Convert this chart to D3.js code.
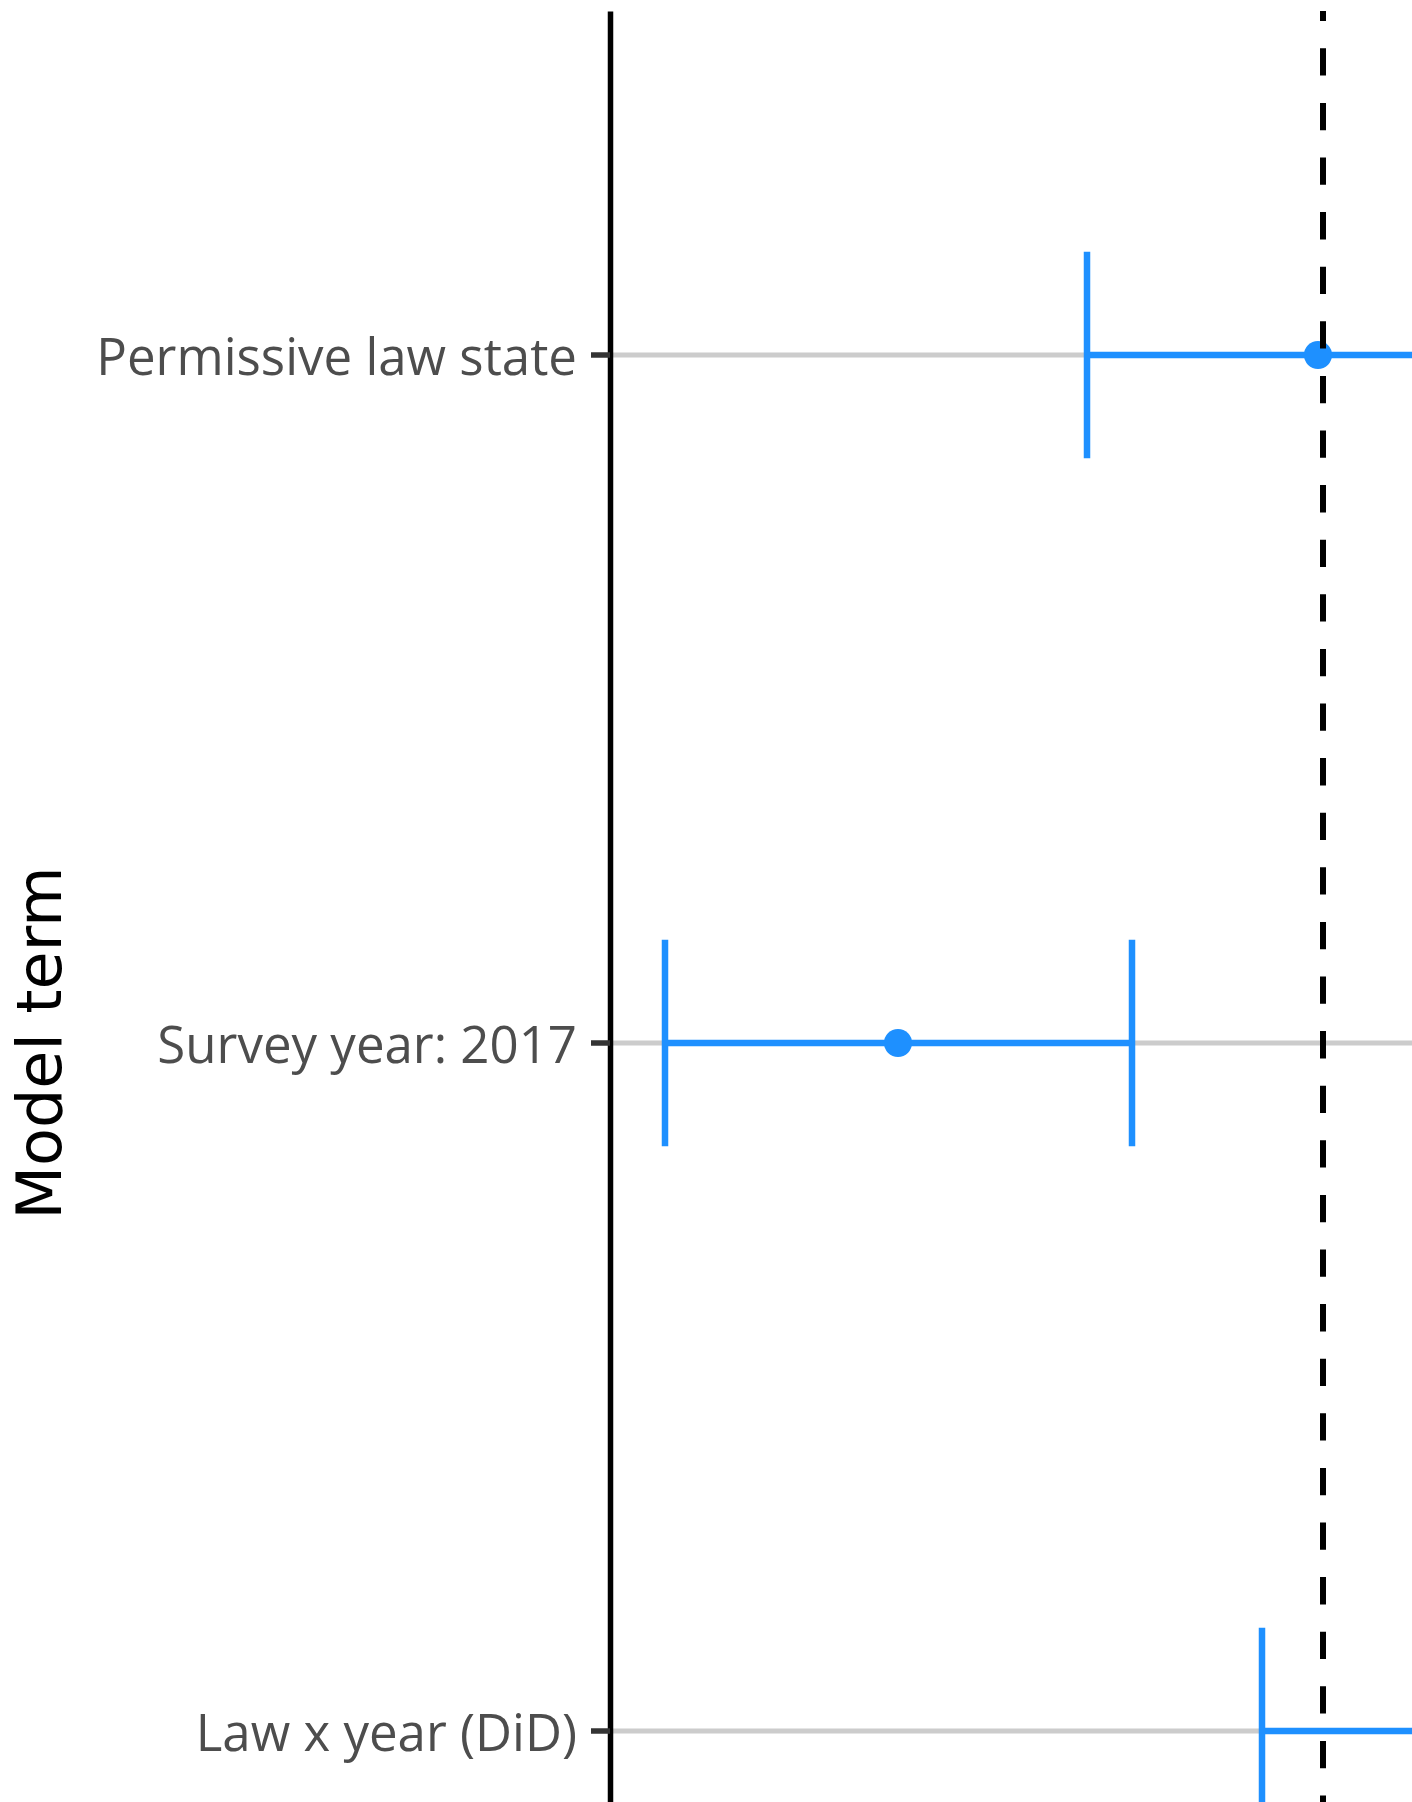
<!DOCTYPE html>
<html>
<head>
<meta charset="utf-8">
<script src="https://cdn.jsdelivr.net/npm/d3@7"></script>
<style>
  body { margin: 0; background: #ffffff; }
  svg { display: block; }
</style>
</head>
<body>
<div id="plot"></div>
<script>
// Model terms and coefficient estimates with 95% CI
const terms = ["Permissive law state", "Survey year: 2017", "Law x year (DiD)"];
const estimates = [-0.0025, -0.2125, 0.085];
const ciLow = [-0.118, -0.329, -0.0305];
const ciHigh = [0.113, -0.0955, 0.2];
const refValue = 0;

const width = 1412, height = 1802;
const panel = { left: 610, top: 11, right: 2023, bottom: 2075 };

const rows = terms.map((t, i) => ({ term: t, est: estimates[i], lo: ciLow[i], hi: ciHigh[i] }));

const svg = d3.select('#plot')
  .append('svg')
  .attr('width', width)
  .attr('height', height)
  .style('background', '#ffffff');

// Scales
const x = d3.scaleLinear()
  .domain([-0.3565, 0.35])
  .range([panel.left, panel.right]);

const y = d3.scaleBand()
  .domain(terms)
  .range([panel.top, panel.bottom])
  .padding(0);

const yc = d => y(d) + y.bandwidth() / 2;
const capHalf = y.bandwidth() * 0.15;
const blue = '#1E90FF';

// Horizontal grid lines
svg.append('g')
  .selectAll('line')
  .data(terms)
  .join('line')
  .attr('x1', panel.left)
  .attr('x2', panel.right)
  .attr('y1', d => yc(d))
  .attr('y2', d => yc(d))
  .attr('stroke', '#cccccc')
  .attr('stroke-width', 5);

// Error bars
const eb = svg.append('g')
  .selectAll('g')
  .data(rows)
  .join('g');

eb.append('line')
  .attr('x1', d => x(d.lo))
  .attr('x2', d => x(d.hi))
  .attr('y1', d => yc(d.term))
  .attr('y2', d => yc(d.term))
  .attr('stroke', blue)
  .attr('stroke-width', 6.5);

eb.selectAll('line.cap')
  .data(d => [{ v: d.lo, term: d.term }, { v: d.hi, term: d.term }])
  .join('line')
  .attr('class', 'cap')
  .attr('x1', d => x(d.v))
  .attr('x2', d => x(d.v))
  .attr('y1', d => yc(d.term) - capHalf)
  .attr('y2', d => yc(d.term) + capHalf)
  .attr('stroke', blue)
  .attr('stroke-width', 6.5);

// Points
svg.append('g')
  .selectAll('circle')
  .data(rows)
  .join('circle')
  .attr('cx', d => x(d.est))
  .attr('cy', d => yc(d.term))
  .attr('r', 14)
  .attr('fill', blue);

// Reference line
svg.append('line')
  .attr('x1', x(refValue))
  .attr('x2', x(refValue))
  .attr('y1', panel.top)
  .attr('y2', panel.bottom)
  .attr('stroke', '#000000')
  .attr('stroke-width', 6)
  .attr('stroke-dasharray', '27.3 27.3')
  .attr('stroke-dashoffset', 17.3);

// Y axis
const yAxis = svg.append('g')
  .attr('transform', `translate(${panel.left},0)`)
  .call(d3.axisLeft(y).tickSize(19).tickSizeOuter(0).tickPadding(14));

yAxis.select('.domain')
  .attr('stroke', '#000000')
  .attr('stroke-width', 5.5);

yAxis.selectAll('.tick line')
  .attr('stroke', '#333333')
  .attr('stroke-width', 5.5);

yAxis.selectAll('.tick text')
  .attr('dy', '0.4em')
  .attr('fill', '#4d4d4d')
  .style('font-family', '"Open Sans", sans-serif')
  .style('font-size', '51px');

// Y axis title
svg.append('text')
  .attr('transform', `translate(61,${(panel.top + panel.bottom) / 2}) rotate(-90)`)
  .attr('text-anchor', 'middle')
  .style('font-family', '"DejaVu Sans", sans-serif')
  .style('font-size', '62px')
  .attr('fill', '#000000')
  .text('Model term');
</script>
</body>
</html>
